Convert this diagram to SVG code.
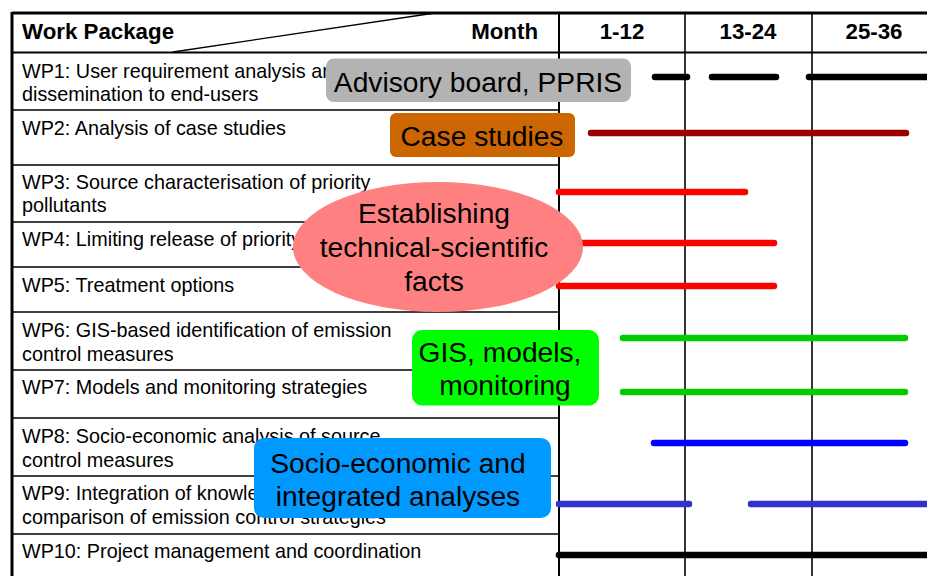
<svg xmlns="http://www.w3.org/2000/svg" width="927" height="576" viewBox="0 0 927 576">
<style>
.t{font-family:"Liberation Sans",Arial,sans-serif;font-size:19.8px;fill:#000}
.h{font-family:"Liberation Sans",Arial,sans-serif;font-size:22.3px;font-weight:bold;fill:#000}
.o{font-family:"Liberation Sans",Arial,sans-serif;font-size:28.2px;fill:#000;text-anchor:middle}
.grid{stroke:#000;fill:none}
.bar{fill:none;stroke-linecap:round;stroke-width:6.5}
</style>
<rect width="927" height="576" fill="#fff"/>
<g id="table">
  <line class="grid" x1="12" y1="13" x2="927" y2="13" stroke-width="3"/>
  <line class="grid" x1="12" y1="12" x2="12" y2="576" stroke-width="3"/>
  <line class="grid" x1="12" y1="52.5" x2="927" y2="52.5" stroke-width="2"/>
  <line class="grid" x1="173" y1="52" x2="435" y2="13" stroke-width="1.3"/>
  <line class="grid" x1="559" y1="13" x2="559" y2="576" stroke-width="2"/>
  <line class="grid" x1="685" y1="13" x2="685" y2="576" stroke-width="1.6"/>
  <line class="grid" x1="812" y1="13" x2="812" y2="576" stroke-width="1.6"/>
  <g stroke-width="1.6">
    <line class="grid" x1="12" y1="110" x2="559" y2="110"/>
    <line class="grid" x1="12" y1="165" x2="559" y2="165"/>
    <line class="grid" x1="12" y1="222" x2="559" y2="222"/>
    <line class="grid" x1="12" y1="267" x2="559" y2="267"/>
    <line class="grid" x1="12" y1="312" x2="559" y2="312"/>
    <line class="grid" x1="12" y1="370" x2="559" y2="370"/>
    <line class="grid" x1="12" y1="418" x2="559" y2="418"/>
    <line class="grid" x1="12" y1="476" x2="559" y2="476"/>
    <line class="grid" x1="12" y1="534" x2="559" y2="534"/>
  </g>
  <text class="h" x="22" y="39">Work Package</text>
  <text class="h" x="538" y="39" text-anchor="end">Month</text>
  <text class="h" x="622" y="39" text-anchor="middle">1-12</text>
  <text class="h" x="748" y="39" text-anchor="middle">13-24</text>
  <text class="h" x="874" y="39" text-anchor="middle">25-36</text>
</g>
<g id="wp1"><text class="t" x="22" y="78">WP1: User requirement analysis and</text><text class="t" x="22" y="101">dissemination to end-users</text></g>
<g id="wp2"><text class="t" x="22" y="135">WP2: Analysis of case studies</text></g>
<g id="wp3"><text class="t" x="22" y="189">WP3: Source characterisation of priority</text><text class="t" x="22" y="212">pollutants</text></g>
<g id="wp4"><text class="t" x="22" y="246">WP4: Limiting release of priority</text></g>
<g id="wp5"><text class="t" x="22" y="292">WP5: Treatment options</text></g>
<g id="wp6"><text class="t" x="22" y="337">WP6: GIS-based identification of emission</text><text class="t" x="22" y="361">control measures</text></g>
<g id="wp7"><text class="t" x="22" y="394">WP7: Models and monitoring strategies</text></g>
<g id="wp8"><text class="t" x="22" y="443">WP8: Socio-economic analysis of source</text><text class="t" x="22" y="467">control measures</text></g>
<g id="wp9"><text class="t" x="22" y="500">WP9: Integration of knowledge and</text><text class="t" x="22" y="524">comparison of emission control strategies</text></g>
<g id="wp10"><text class="t" x="22" y="558">WP10: Project management and coordination</text></g>
<g id="connectors">
  <line class="bar" x1="655" y1="77" x2="687" y2="77" stroke="#000" stroke-width="7"/>
  <line class="bar" x1="712" y1="77" x2="776" y2="77" stroke="#000" stroke-width="7"/>
  <line class="bar" x1="809" y1="77" x2="935" y2="77" stroke="#000" stroke-width="7"/>
  <line class="bar" x1="591" y1="133" x2="906" y2="133" stroke="#990000"/>
  <line class="bar" x1="559" y1="192" x2="745" y2="192" stroke="#ff0000"/>
  <line class="bar" x1="559" y1="243" x2="774" y2="243" stroke="#ff0000"/>
  <line class="bar" x1="559" y1="286" x2="774" y2="286" stroke="#ff0000"/>
  <line class="bar" x1="623" y1="338" x2="905" y2="338" stroke="#00cc00"/>
  <line class="bar" x1="623" y1="392" x2="905" y2="392" stroke="#00cc00"/>
  <line class="bar" x1="654" y1="443" x2="905" y2="443" stroke="#0000ff"/>
  <line class="bar" x1="559" y1="504" x2="689" y2="504" stroke="#3333cc"/>
  <line class="bar" x1="751" y1="504" x2="935" y2="504" stroke="#3333cc"/>
  <line class="bar" x1="559" y1="555" x2="935" y2="555" stroke="#000" stroke-width="7"/>
</g>
<g id="advisory">
  <rect x="326" y="58.5" width="305" height="43.5" rx="8" fill="#b3b3b3"/>
  <text class="o" x="478" y="92">Advisory board, PPRIS</text>
</g>
<g id="casestudies">
  <rect x="390" y="113" width="185" height="44" rx="6" fill="#cc6600"/>
  <text class="o" x="482" y="146">Case studies</text>
</g>
<g id="facts">
  <ellipse cx="438" cy="247" rx="145" ry="65" fill="#ff8080"/>
  <text class="o" x="434" y="223">Establishing</text>
  <text class="o" x="434" y="257">technical-scientific</text>
  <text class="o" x="434" y="291">facts</text>
</g>
<g id="gis">
  <rect x="412" y="330" width="187" height="75.5" rx="10" fill="#00ff00"/>
  <text class="o" x="500" y="362">GIS, models,</text>
  <text class="o" x="505" y="395">monitoring</text>
</g>
<g id="socio">
  <rect x="254" y="438" width="297" height="80" rx="10" fill="#0099ff"/>
  <text class="o" x="398" y="473">Socio-economic and</text>
  <text class="o" x="398" y="506">integrated analyses</text>
</g>
</svg>
